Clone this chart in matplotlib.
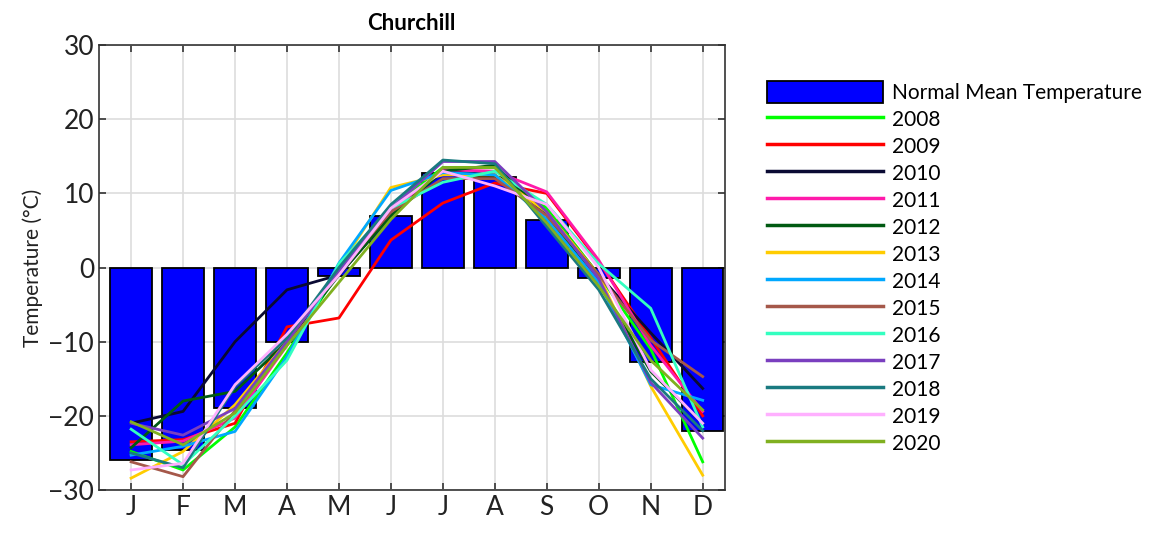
import matplotlib.pyplot as plt
from matplotlib.patches import Patch

plt.rcParams['font.family'] = ['Lato', 'DejaVu Sans']

months = ['J', 'F', 'M', 'A', 'M', 'J', 'J', 'A', 'S', 'O', 'N', 'D']
normal = [-26.0, -24.6, -18.9, -10.0, -1.1, 6.9, 12.7, 12.2, 6.4, -1.4, -12.8, -22.0]

years = ['2008', '2009', '2010', '2011', '2012', '2013', '2014',
         '2015', '2016', '2017', '2018', '2019', '2020']
colors = ['#00ff00', '#ff0000', '#0a0a33', '#ff1aaa', '#005a12', '#ffcc00', '#00a8ff',
          '#a5584a', '#33ffc0', '#7a3fbf', '#1a7a80', '#ffb0ff', '#80b020']

t2008 = [-24.8, -27.3, -21.5, -11.5, -0.5, 8.0, 13.5, 13.5, 8.0, -1.0, -11.0, -26.2]
t2009 = [-23.5, -23.2, -21.0, -8.0, -6.8, 3.7, 8.7, 11.4, 10.0, 0.8, -9.5, -20.0]
t2010 = [-21.0, -19.4, -10.0, -3.0, -1.0, 7.0, 13.0, 12.5, 7.5, -1.0, -8.8, -16.3]
t2011 = [-23.9, -23.4, -20.3, -10.5, -0.5, 7.5, 13.2, 13.0, 10.2, 1.0, -10.5, -19.4]
t2012 = [-24.3, -18.0, -16.7, -10.0, -1.0, 7.0, 13.0, 13.8, 7.0, -2.0, -14.0, -21.0]
t2013 = [-28.4, -24.8, -18.5, -10.0, 0.0, 10.8, 12.5, 12.5, 7.5, -1.0, -16.0, -28.0]
t2014 = [-25.3, -24.1, -22.1, -12.0, 0.6, 10.4, 12.8, 12.5, 6.5, -2.0, -15.8, -17.9]
t2015 = [-26.2, -28.2, -19.3, -10.0, -0.5, 7.5, 12.0, 12.0, 7.0, -1.0, -9.8, -14.7]
t2016 = [-21.8, -26.6, -20.0, -12.5, 0.5, 8.0, 11.5, 13.0, 8.5, 0.5, -5.5, -21.5]
t2017 = [-21.0, -22.6, -19.0, -10.0, -0.5, 8.0, 14.3, 14.3, 7.5, -1.5, -15.5, -23.0]
t2018 = [-25.0, -27.0, -16.0, -9.5, 0.0, 8.5, 14.5, 14.0, 5.5, -3.0, -15.0, -22.0]
t2019 = [-27.3, -26.4, -15.8, -9.0, -1.0, 8.0, 13.0, 11.0, 8.5, 0.0, -13.8, -21.0]
t2020 = [-20.8, -23.9, -19.6, -10.5, -2.0, 6.5, 13.5, 13.5, 6.0, -2.5, -12.5, -19.2]

series = [t2008, t2009, t2010, t2011, t2012, t2013, t2014,
          t2015, t2016, t2017, t2018, t2019, t2020]

x = list(range(1, 13))

fig = plt.figure(figsize=(11.5, 5.37), dpi=100)
ax = fig.add_axes([0.086, 0.0875, 0.544, 0.8285])

ax.bar(x, normal, width=0.8, color='#0000ff', edgecolor='black', linewidth=1.3, zorder=2)
for vals, c in zip(series, colors):
    ax.plot(x, vals, color=c, linewidth=2.0, zorder=3)

ax.set_xlim(0.38, 12.42)
ax.set_ylim(-30, 30)
ax.set_xticks(x)
ax.set_xticklabels(months)
ax.set_yticks([-30, -20, -10, 0, 10, 20, 30])
ax.tick_params(axis='both', labelsize=19, direction='in', top=True, right=True,
               length=5, width=1.2, colors='#333333', labelcolor='#222222')
ax.grid(True, color='#dddddd', linewidth=1.2, zorder=0)
ax.set_axisbelow(True)
for s in ax.spines.values():
    s.set_color('#333333')
    s.set_linewidth(1.2)

ax.set_ylabel('Temperature (°C)', fontsize=15, color='#222222', labelpad=4)
ax.set_title('Churchill', fontsize=16, fontweight='bold', pad=11)

handles = [Patch(facecolor='#0000ff', edgecolor='black', linewidth=1.3)]
handles += [plt.Line2D([], [], color=c, linewidth=2.5) for c in colors]
labels = ['Normal Mean Temperature'] + years
fig.legend(handles, labels, loc='upper left', bbox_to_anchor=(0.6595, 0.864),
           frameon=False, fontsize=15, handlelength=5.6, handleheight=1.2,
           handletextpad=0.4, labelspacing=0.255, borderaxespad=0)

fig.savefig('out.png', dpi=100)
